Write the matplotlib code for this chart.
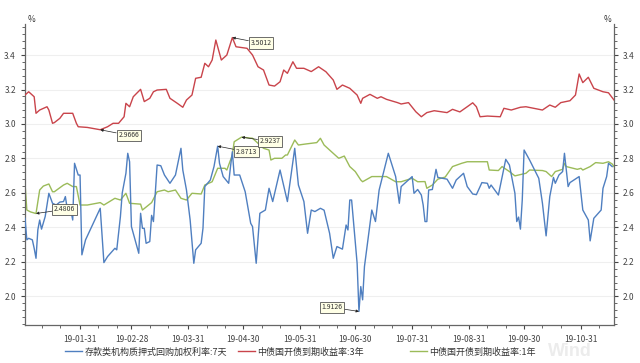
import matplotlib
matplotlib.use("Agg")
import matplotlib.pyplot as plt
import matplotlib.dates as mdates
from matplotlib.ticker import MultipleLocator, FixedLocator
from matplotlib.lines import Line2D
import pandas as pd
import numpy as np

plt.rcParams['font.family'] = ['Noto Sans CJK SC', 'DejaVu Sans']

start = pd.Timestamp('2019-01-01')

# 存款类机构质押式回购加权利率:7天 (days since 2019-01-01, value %)
blue_days = [0, 1, 2, 4, 5, 6, 7, 8, 9, 11, 13, 15, 17, 19, 21, 22, 23, 25, 26, 27, 29, 30, 31, 33,
             41, 43, 45, 49, 50, 52, 53, 55, 56, 57, 58, 62, 63, 64, 65, 66, 68, 69, 70, 72, 74, 76,
             79, 82, 85, 86, 88, 90, 92, 93, 96, 97, 98, 101, 103, 105, 106, 108, 111, 112, 113, 114,
             117, 120, 123, 124, 126, 128, 131, 133, 135, 139, 143, 147, 149, 152, 154, 156, 158, 161,
             163, 166, 168, 170, 173, 175, 176, 177, 178, 181, 182, 183, 184, 185, 189, 191, 193, 198,
             202, 204, 205, 211, 212, 214, 216, 217, 218, 219, 220, 222, 224, 225, 230, 233, 235, 239,
             241, 244, 246, 249, 252, 253, 254, 258, 262, 264, 267, 268, 269, 270, 271, 272, 275, 280,
             282, 284, 286, 288, 289, 291, 293, 294, 296, 297, 302, 304, 307, 308, 310, 314, 315, 317,
             318, 320]
blue_vals = [2.453, 2.328, 2.337, 2.328, 2.279, 2.221, 2.386, 2.443, 2.390, 2.463, 2.598, 2.540,
             2.530, 2.547, 2.550, 2.579, 2.510, 2.500, 2.443, 2.772, 2.704, 2.704, 2.241, 2.328,
             2.511, 2.196, 2.231, 2.279, 2.270, 2.463, 2.600, 2.714, 2.830, 2.781, 2.405, 2.250,
             2.482, 2.395, 2.395, 2.308, 2.318, 2.470, 2.434, 2.762, 2.758, 2.704, 2.656, 2.704,
             2.859, 2.733, 2.617, 2.443, 2.192, 2.270, 2.308, 2.395, 2.637, 2.675, 2.753, 2.8713,
             2.772, 2.695, 2.656, 2.753, 2.839, 2.704, 2.704, 2.607, 2.424, 2.405, 2.192, 2.482,
             2.501, 2.627, 2.550, 2.733, 2.550, 2.859, 2.646, 2.550, 2.366, 2.501, 2.492, 2.511,
             2.500, 2.366, 2.221, 2.289, 2.274, 2.414, 2.385, 2.559, 2.559, 2.192, 1.9126, 2.057,
             1.980, 2.173, 2.501, 2.434, 2.617, 2.830, 2.695, 2.540, 2.637, 2.695, 2.598, 2.620,
             2.588, 2.530, 2.434, 2.434, 2.617, 2.620, 2.737, 2.690, 2.680, 2.627, 2.675, 2.714,
             2.637, 2.594, 2.590, 2.660, 2.656, 2.627, 2.646, 2.588, 2.795, 2.762, 2.598, 2.434,
             2.460, 2.390, 2.559, 2.849, 2.791, 2.685, 2.540, 2.351, 2.579, 2.690, 2.656, 2.704,
             2.724, 2.830, 2.637, 2.660, 2.695, 2.501, 2.443, 2.322, 2.453, 2.501, 2.627, 2.695,
             2.772, 2.753]

# 中债国开债到期收益率:3年
red_days = [0, 2, 5, 6, 8, 12, 13, 15, 16, 19, 21, 26, 28, 29, 34, 41, 45, 48, 51, 54, 55, 57, 59,
            63, 65, 68, 70, 72, 77, 79, 83, 86, 88, 91, 93, 96, 98, 100, 102, 104, 107, 110, 113,
            115, 121, 124, 127, 130, 133, 136, 139, 141, 143, 146, 148, 152, 156, 160, 164, 168,
            170, 173, 177, 181, 183, 184, 188, 192, 194, 197, 203, 205, 209, 213, 216, 219, 223,
            230, 233, 237, 241, 244, 246, 248, 252, 259, 261, 265, 270, 273, 282, 286, 289, 292,
            297, 300, 302, 304, 307, 310, 315, 318, 321]
red_vals = [3.168, 3.187, 3.158, 3.062, 3.081, 3.100, 3.081, 3.004, 3.008, 3.033, 3.062, 3.062,
            3.004, 2.984, 2.980, 2.9666, 2.984, 3.004, 3.004, 3.042, 3.120, 3.100, 3.158, 3.201,
            3.130, 3.149, 3.187, 3.197, 3.201, 3.149, 3.120, 3.097, 3.139, 3.168, 3.265, 3.271,
            3.352, 3.332, 3.371, 3.487, 3.371, 3.400, 3.5012, 3.448, 3.439, 3.400, 3.332, 3.313,
            3.226, 3.220, 3.245, 3.313, 3.294, 3.361, 3.323, 3.323, 3.304, 3.332, 3.303, 3.255,
            3.201, 3.226, 3.207, 3.168, 3.120, 3.149, 3.172, 3.149, 3.158, 3.143, 3.124, 3.116,
            3.124, 3.071, 3.042, 3.066, 3.077, 3.066, 3.085, 3.070, 3.100, 3.123, 3.100, 3.042,
            3.046, 3.042, 3.091, 3.081, 3.097, 3.100, 3.081, 3.110, 3.097, 3.124, 3.135, 3.168,
            3.290, 3.240, 3.271, 3.207, 3.187, 3.181, 3.139]

# 中债国开债到期收益率:1年
green_days = [0, 1, 3, 6, 8, 10, 13, 15, 16, 21, 23, 26, 28, 30, 34, 41, 43, 49, 52, 55, 57, 63, 64,
              69, 72, 76, 78, 82, 85, 88, 91, 96, 98, 102, 105, 109, 110, 113, 114, 118, 124, 130,
              133, 134, 136, 140, 142, 143, 147, 149, 153, 159, 161, 163, 166, 169, 171, 174, 177,
              180, 183, 184, 189, 197, 202, 205, 211, 214, 218, 219, 222, 225, 229, 233, 238, 241,
              252, 253, 258, 260, 264, 267, 269, 273, 275, 282, 284, 287, 289, 293, 294, 295, 301,
              303, 304, 308, 311, 315, 318, 320, 321]
green_vals = [2.656, 2.501, 2.490, 2.4806, 2.617, 2.640, 2.652, 2.607, 2.607, 2.646, 2.656, 2.637,
              2.637, 2.530, 2.530, 2.544, 2.530, 2.569, 2.559, 2.598, 2.540, 2.535, 2.501, 2.544,
              2.607, 2.617, 2.607, 2.617, 2.569, 2.559, 2.598, 2.594, 2.646, 2.665, 2.743, 2.743,
              2.733, 2.820, 2.897, 2.9237, 2.917, 2.859, 2.849, 2.791, 2.801, 2.801, 2.820, 2.820,
              2.907, 2.878, 2.884, 2.892, 2.917, 2.878, 2.849, 2.820, 2.801, 2.814, 2.753, 2.724,
              2.675, 2.665, 2.695, 2.695, 2.665, 2.665, 2.685, 2.665, 2.666, 2.627, 2.646, 2.680,
              2.692, 2.753, 2.772, 2.781, 2.781, 2.733, 2.730, 2.753, 2.724, 2.699, 2.704, 2.714,
              2.733, 2.730, 2.724, 2.695, 2.724, 2.737, 2.772, 2.753, 2.737, 2.743, 2.733, 2.753,
              2.776, 2.772, 2.781, 2.768, 2.753]

labels = ['存款类机构质押式回购加权利率:7天', '中债国开债到期收益率:3年', '中债国开债到期收益率:1年']
colors = ['#4F7FC0', '#C9444B', '#9BBB59']

def to_dates(days):
    return start + pd.to_timedelta(np.array(days), unit='D')

fig = plt.figure(figsize=(6.4, 3.63), dpi=100)
ax = fig.add_axes([25/640, 1-325/363, (614-25)/640, (325-24)/363])

bd, rd, gd = to_dates(blue_days), to_dates(red_days), to_dates(green_days)
ax.plot(bd, blue_vals, color=colors[0], lw=1.0, zorder=3)
ax.plot(rd, red_vals, color=colors[1], lw=1.0, zorder=3)
ax.plot(gd, green_vals, color=colors[2], lw=1.0, zorder=2)

ax.set_xlim(pd.Timestamp('2019-01-01'), pd.Timestamp('2019-11-18'))
ax.set_ylim(1.834, 3.58)

# axes styling
major_dates = pd.date_range('2019-01-31', '2019-10-31', freq='ME')
ax.xaxis.set_major_locator(FixedLocator(mdates.date2num(major_dates)))
ax.xaxis.set_major_formatter(mdates.DateFormatter('%y-%m-%d'))
ax.xaxis.set_minor_locator(mdates.DayLocator(bymonthday=[10, 20]))
ax.yaxis.set_major_locator(MultipleLocator(0.2))
ax.yaxis.set_minor_locator(MultipleLocator(0.04))
ax.yaxis.set_major_formatter(matplotlib.ticker.FormatStrFormatter('%.1f'))

ax.grid(axis='y', which='major', color='#efefef', lw=0.8, zorder=0)
ax.spines['top'].set_visible(False)
for s in ['left', 'right', 'bottom']:
    ax.spines[s].set_color('#666666')
    ax.spines[s].set_linewidth(0.9)

ax.tick_params(axis='both', which='major', labelsize=6, colors='#444444', length=3, width=0.8)
ax.tick_params(axis='both', which='minor', length=2, width=0.7, colors='#666666')
ax.tick_params(axis='y', which='both', right=True, labelright=True, left=True, labelleft=True)
ax.tick_params(axis='x', which='major', pad=4)

ax.text(0.004, 1.0, '%', transform=ax.transAxes, fontsize=6, color='#333333', ha='left', va='bottom')
ax.text(0.996, 1.0, '%', transform=ax.transAxes, fontsize=6, color='#333333', ha='right', va='bottom')

# annotations
ann = [
    (rd[red_vals.index(3.5012)], 3.5012, '3.5012', (13, -4)),
    (rd[red_vals.index(2.9666)], 2.9666, '2.9666', (13, -4)),
    (bd[blue_vals.index(2.8713)], 2.8713, '2.8713', (13, -4)),
    (gd[green_vals.index(2.9237)], 2.9237, '2.9237', (13, -3)),
    (gd[green_vals.index(2.4806)], 2.4806, '2.4806', (13, 3)),
    (bd[blue_vals.index(1.9126)], 1.9126, '1.9126', (-12, 3)),
]
for x, y, t, off in ann:
    ax.annotate(t, xy=(x, y), xytext=off, textcoords='offset points',
                ha='left' if off[0] > 0 else 'right', va='center', fontsize=5, color='#333333',
                bbox=dict(boxstyle='square,pad=0.25', fc='#FFFFE6', ec='#555555', lw=0.6),
                arrowprops=dict(arrowstyle='-|>', color='#222222', lw=0.5, mutation_scale=4,
                                shrinkA=0, shrinkB=0),
                zorder=6)

# watermark
fig.text(548/640, 3/363, 'Wind', fontsize=13, color='#ececec', family='Liberation Sans',
         weight='bold', ha='left', va='bottom', zorder=0)

# legend with fixed column positions
legx = [65, 238, 410]
for i in range(3):
    h = Line2D([], [], color=colors[i], lw=1.0)
    fig.legend(handles=[h], labels=[labels[i]], loc='center left',
               bbox_to_anchor=(legx[i]/640, 1-352/363), frameon=False, fontsize=6.5,
               borderpad=0, borderaxespad=0, handlelength=1.9, handletextpad=0.25,
               labelcolor='#333333')

fig.savefig('out.png', dpi=100)
